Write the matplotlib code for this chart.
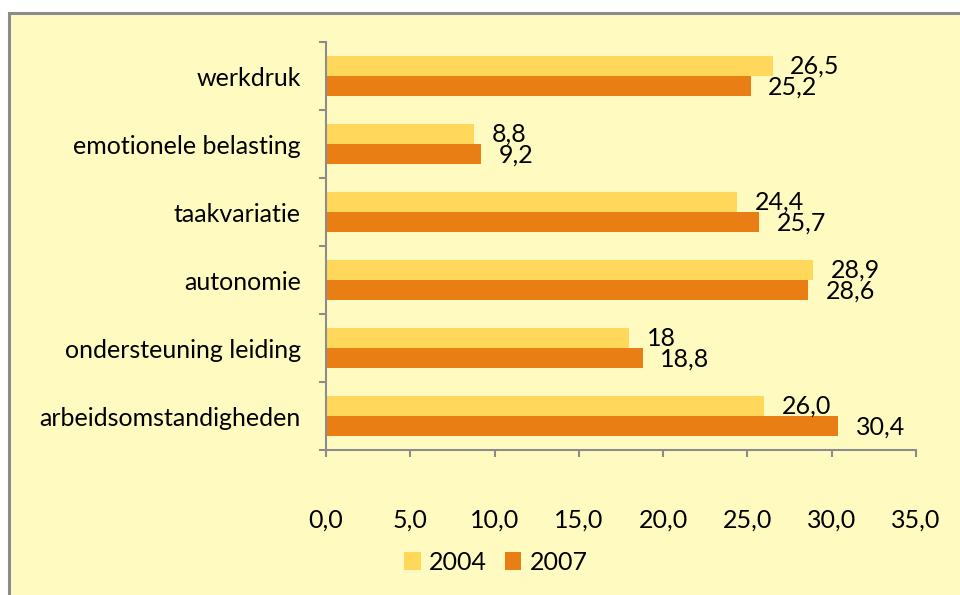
import matplotlib
matplotlib.use("Agg")
import matplotlib.pyplot as plt
from matplotlib.patches import Rectangle, Patch
import numpy as np

categories = ["werkdruk", "emotionele belasting", "taakvariatie", "autonomie",
              "ondersteuning leiding", "arbeidsomstandigheden"]
values_2004 = [26.5, 8.8, 24.4, 28.9, 18.0, 26.0]
values_2007 = [25.2, 9.2, 25.7, 28.6, 18.8, 30.4]
labels_2004 = ["26,5", "8,8", "24,4", "28,9", "18", "26,0"]
labels_2007 = ["25,2", "9,2", "25,7", "28,6", "18,8", "30,4"]
series_names = ["2004", "2007"]
xticks = [0, 5, 10, 15, 20, 25, 30, 35]
xticklabels = ["0,0", "5,0", "10,0", "15,0", "20,0", "25,0", "30,0", "35,0"]

BG = "#FFFBC0"
C04 = "#FFD75A"
C07 = "#E97F14"
GRAY = "#8C8C8C"
FS = 18

plt.rcParams['font.family'] = ['Lato', 'DejaVu Sans']

fig = plt.figure(figsize=(9.6, 5.95), dpi=100, facecolor="white")
panel = Rectangle((9 / 960, -0.01), 1.0, (595 - 13) / 595 + 0.01,
                  transform=fig.transFigure, facecolor=BG, edgecolor=GRAY,
                  linewidth=2.2, zorder=-10)
fig.patches.append(panel)

ax = fig.add_axes([326 / 960, 1 - 450 / 595, 590 / 960, 408 / 595])
ax.set_facecolor("none")
ax.set_zorder(1)

n = len(categories)
y = np.arange(n)[::-1]
h = 0.294
ax.barh(y + h / 2, values_2004, height=h, color=C04, label=series_names[0], zorder=2)
ax.barh(y - h / 2, values_2007, height=h, color=C07, label=series_names[1], zorder=2)

for yi, v, t in zip(y, values_2004, labels_2004):
    ax.annotate(t, (v, yi + h / 2), xytext=(12.5, 0), textcoords="offset points",
                ha="left", va="center", fontsize=FS, color="black", zorder=3)
for yi, v, t in zip(y, values_2007, labels_2007):
    ax.annotate(t, (v, yi - h / 2 - 0.02), xytext=(12.5, 0), textcoords="offset points",
                ha="left", va="center", fontsize=FS, color="black", zorder=3)

ax.set_xlim(0, 35)
ax.set_ylim(-0.5, n - 0.5)
ax.set_xticks(xticks)
ax.set_xticklabels(xticklabels, fontsize=FS)
ax.set_yticks(y)
ax.set_yticklabels(categories, fontsize=FS)
ax.set_yticks(np.arange(-0.5, n, 1.0), minor=True)
ax.tick_params(axis="y", which="major", length=0, pad=18)
ax.tick_params(axis="y", which="minor", length=5, width=1.5, color=GRAY, direction="out")
ax.tick_params(axis="x", which="major", length=5, width=1.5, color=GRAY, direction="out", pad=37)

for s in ["top", "right"]:
    ax.spines[s].set_visible(False)
for s in ["left", "bottom"]:
    ax.spines[s].set_color(GRAY)
    ax.spines[s].set_linewidth(1.5)

handles = [Patch(facecolor=C04, edgecolor="none"), Patch(facecolor=C07, edgecolor="none")]
fig.legend(handles, series_names, loc="center", bbox_to_anchor=(496 / 960, 1 - 562 / 595),
           ncol=2, frameon=False, fontsize=FS, handlelength=0.65, handleheight=0.7,
           handletextpad=0.35, columnspacing=0.7)

fig.savefig("out.png", dpi=100, facecolor="white")
